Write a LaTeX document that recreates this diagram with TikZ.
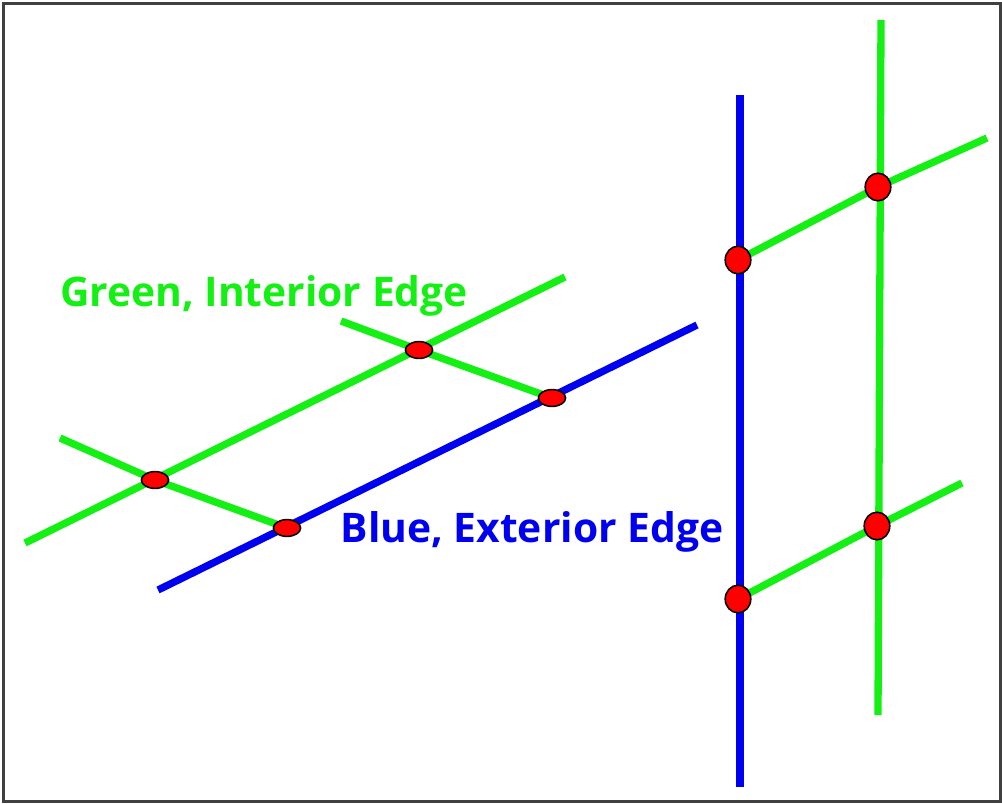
\documentclass[tikz,border=0pt]{standalone}
\usepackage{fontspec}
\setmainfont{Open Sans}
\usepackage{tikz}
\usetikzlibrary{positioning,shapes.geometric}
\usepackage{xcolor}
\definecolor{edgegreen}{RGB}{20,240,20}
\definecolor{edgeblue}{RGB}{0,0,240}
\pgfdeclarelayer{background}
\pgfsetlayers{background,main}
\tikzset{
  interior/.style={
    draw=edgegreen,
    line width=5.2pt,
  },
  exterior/.style={
    draw=edgeblue,
    line width=5.2pt,
  },
  flatdot/.style={
    draw,
    ellipse,
    fill=red,
    minimum width=6.8mm,
    minimum height=4.2mm,
    inner sep=0pt,
    line width=1.1pt,
  },
  rounddot/.style={
    draw,
    ellipse,
    fill=red,
    minimum width=6.4mm,
    minimum height=6.9mm,
    inner sep=0pt,
    line width=1.1pt,
  },
  edgelabel/.style={
    font=\fontsize{29}{33}\selectfont\bfseries,
    inner sep=0pt,
  },
}

\begin{document}
\begin{tikzpicture}[x=0.025cm, y=-0.025cm]
  \useasboundingbox (0,0) rectangle (1002,804);
  \draw[black!75, line width=2pt] (3.5,3.5) rectangle (1000.5,801.5);
  % left part
  \coordinate (gA) at (25,543);
  \coordinate (gB) at (565,277);
  \coordinate (bA) at (158,590);
  \coordinate (bB) at (697,325);
  \coordinate (sA) at (60,438);
  \coordinate (sB) at (341,321);
  \node[flatdot] (d1) at (155,480) {};
  \node[flatdot] (d2) at (419,350) {};
  \node[flatdot] (d3) at (287,528) {};
  \node[flatdot] (d4) at (552,398) {};
  % right part
  \coordinate (vbA) at (740,95);
  \coordinate (vbB) at (740,787);
  \coordinate (vgA) at (881,20);
  \coordinate (vgB) at (878,715);
  \coordinate (tE) at (987,138);
  \coordinate (lE) at (962,483);
  \node[rounddot] (r1) at (738,260) {};
  \node[rounddot] (r2) at (878,187) {};
  \node[rounddot] (r3) at (738,599) {};
  \node[rounddot] (r4) at (877,526) {};
  % edges under the dots
  \begin{pgfonlayer}{background}
    \draw[interior] (gA) -- (gB);
    \draw[exterior] (bA) -- (bB);
    \draw[interior] (sA) -- (d1.center) -- (d3.center);
    \draw[interior] (sB) -- (d2.center) -- (d4.center);
    \draw[exterior] (vbA) -- (vbB);
    \draw[interior] (vgA) -- (vgB);
    \draw[interior] (r1.center) -- (r2.center) -- (tE);
    \draw[interior] (r3.center) -- (r4.center) -- (lE);
  \end{pgfonlayer}
  % labels
  \node[edgelabel, text=edgegreen] (glabel) at (264,296) {Green, Interior Edge};
  \node[edgelabel, text=edgeblue] (blabel) at (532,532) {Blue, Exterior Edge};
\end{tikzpicture}
\end{document}
